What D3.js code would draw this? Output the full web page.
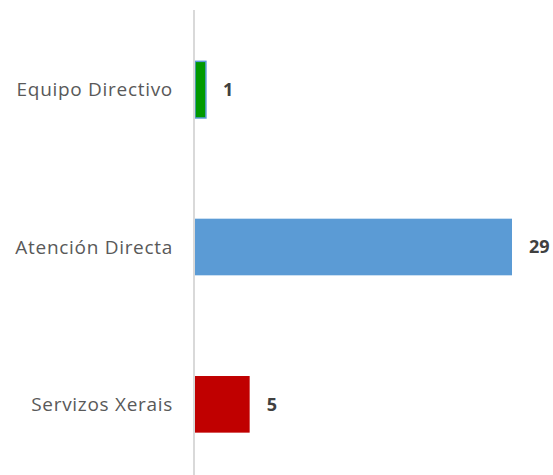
<!DOCTYPE html>
<html>
<head>
<meta charset="utf-8">
<script src="https://cdn.jsdelivr.net/npm/d3@7"></script>
<style>
  body { margin: 0; background: #fff; }
  .cat-label { font-family: "Open Sans", sans-serif; font-size: 19px; letter-spacing: 0.7px; fill: #595959; }
  .val-label { font-family: "Open Sans", sans-serif; font-size: 18px; font-weight: bold; fill: #404040; }
</style>
</head>
<body>
<svg id="chart" width="553" height="475"></svg>
<script>
const categories = ["Equipo Directivo", "Atención Directa", "Servizos Xerais"];
const values = [1, 29, 5];
const colors = ["#009900", "#5b9bd5", "#c00000"];

function drawBars() {
    const width = 553, height = 475;
    const left = 195;

    const svg = d3.select("#chart");

    const x = d3.scaleLinear()
        .domain([0, 29])
        .range([left, left + 317]);

    const y = d3.scaleBand()
        .domain(categories)
        .range([11, 483])
        .paddingInner(0.64)
        .paddingOuter(0.32);

    const data = categories.map((c, i) => ({ cat: c, value: values[i], color: colors[i] }));

    // bars
    svg.selectAll(".bar")
        .data(data)
        .join("rect")
        .attr("class", "bar")
        .attr("x", x(0))
        .attr("y", d => y(d.cat))
        .attr("width", d => x(d.value) - x(0))
        .attr("height", y.bandwidth())
        .attr("fill", d => d.color)
        .attr("stroke", d => d.cat === "Equipo Directivo" ? "#5b9bd5" : "none")
        .attr("stroke-width", 1.5);

    // vertical axis line
    svg.append("line")
        .attr("x1", left - 1).attr("x2", left - 1)
        .attr("y1", 10).attr("y2", height)
        .attr("stroke", "#d9d9d9")
        .attr("stroke-width", 2);

    // category labels
    svg.selectAll(".cat-label")
        .data(data)
        .join("text")
        .attr("class", "cat-label")
        .attr("x", left - 22)
        .attr("y", d => y(d.cat) + y.bandwidth() / 2)
        .attr("dy", "0.35em")
        .attr("text-anchor", "end")
        .text(d => d.cat);

    // value labels
    svg.selectAll(".val-label")
        .data(data)
        .join("text")
        .attr("class", "val-label")
        .attr("x", d => x(d.value) + 17)
        .attr("y", d => y(d.cat) + y.bandwidth() / 2)
        .attr("dy", "0.35em")
        .text(d => d.value);
}

drawBars();
</script>
</body>
</html>
